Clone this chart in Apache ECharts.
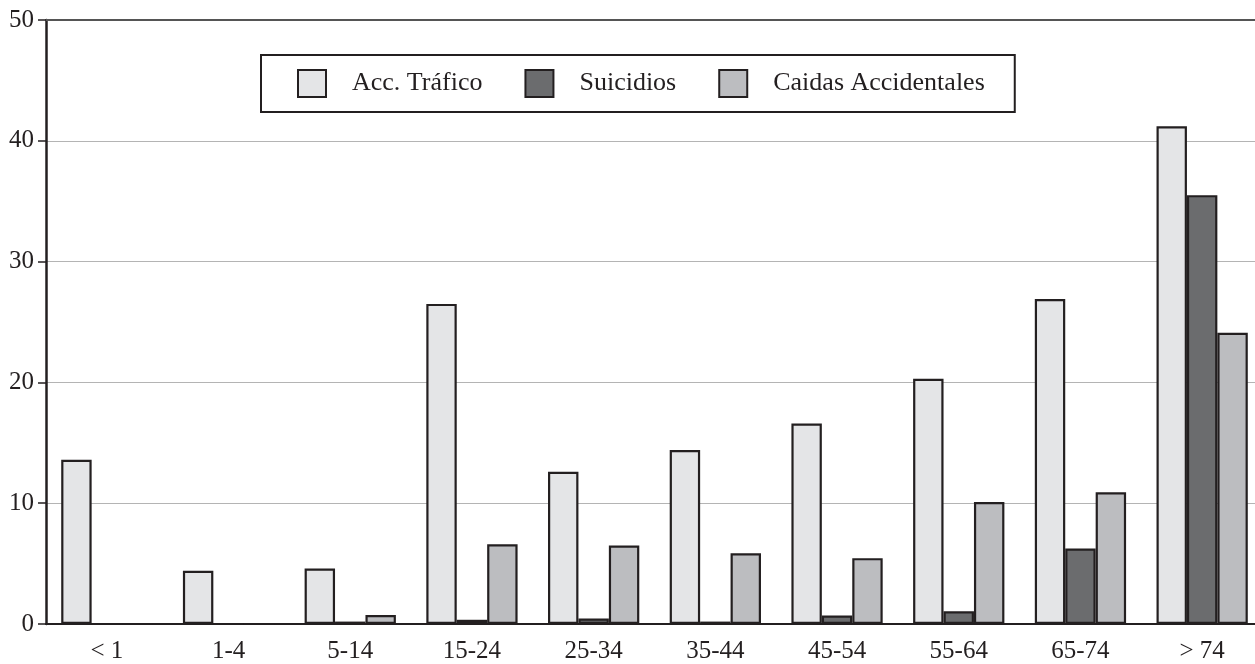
<!DOCTYPE html>
<html>
<head>
<meta charset="utf-8">
<script src="https://cdn.jsdelivr.net/npm/echarts@6/dist/echarts.min.js"></script>
<style>html,body{margin:0;padding:0;background:#fff;}#c{width:1255px;height:664px;}</style>
</head>
<body>
<div id="c"></div>
<script>
const categories = ['< 1', '1-4', '5-14', '15-24', '25-34', '35-44', '45-54', '55-64', '65-74', '> 74'];
const accTrafico = [13.6, 4.4, 4.6, 26.5, 12.6, 14.4, 16.6, 20.3, 26.9, 41.2];
const suicidios = [0, 0, 0.2, 0.35, 0.45, 0.2, 0.7, 1.05, 6.25, 35.5];
const caidas = [0, 0, 0.75, 6.6, 6.5, 5.85, 5.45, 10.1, 10.9, 24.1];
const yTicks = { min: 0, max: 50, interval: 10 };

const FONT = 'Liberation Serif';
const ink = '#231f20';
const chart = echarts.init(document.getElementById('c'));
function barSeries(name, data, color) {
  return {
    name, type: 'bar', data,
    barGap: '0%', barCategoryGap: '25%',
    itemStyle: { color, borderColor: ink, borderWidth: 2.2 },
    emphasis: { disabled: true },
    animation: false
  };
}
chart.setOption({
  animation: false,
  grid: { left: 46, top: 20, width: 1217, bottom: 40, outerBoundsMode: 'none', containLabel: false },
  legend: {
    left: 261, top: 55,
    padding: [14, 30, 14, 36],
    itemGap: 42,
    itemWidth: 28, itemHeight: 27,
    icon: 'rect',
    borderColor: ink, borderWidth: 2,
    textStyle: { fontFamily: FONT, fontSize: 26, color: ink, padding: [0, 0, 0, 21] },
    data: ['Acc. Tráfico', 'Suicidios', 'Caidas Accidentales']
  },
  xAxis: [{
    type: 'category', data: categories, position: 'bottom',
    axisLine: { lineStyle: { color: ink, width: 2 } },
    axisTick: { alignWithLabel: true, length: 7, lineStyle: { color: ink, width: 1.5 } },
    axisLabel: { fontFamily: FONT, fontSize: 25, color: ink, margin: 15 }
  }, {
    type: 'category', data: categories, position: 'top',
    axisLine: { lineStyle: { color: '#555', width: 2 } },
    axisTick: { show: false }, axisLabel: { show: false }
  }],
  yAxis: {
    type: 'value', min: yTicks.min, max: yTicks.max, interval: yTicks.interval,
    axisLine: { show: true, lineStyle: { color: ink, width: 2.5 } },
    axisTick: { show: true, length: 8, lineStyle: { color: ink, width: 1.5 } },
    axisLabel: { fontFamily: FONT, fontSize: 25, color: ink, margin: 12 },
    splitLine: { lineStyle: { color: '#b4b4b4', width: 1.2 } }
  },
  series: [
    barSeries('Acc. Tráfico', accTrafico, '#e4e5e7'),
    barSeries('Suicidios', suicidios, '#6b6c6e'),
    barSeries('Caidas Accidentales', caidas, '#bcbdc0')
  ]
});
</script>
</body>
</html>
